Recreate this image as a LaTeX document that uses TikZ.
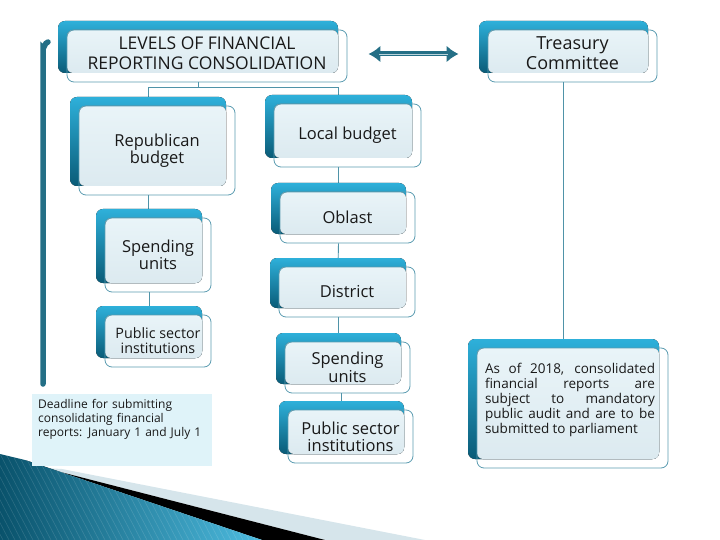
\documentclass[tikz,border=0pt]{standalone}
\usepackage{fontspec}
\setmainfont{Open Sans}
\usetikzlibrary{arrows.meta,backgrounds}
\definecolor{tealtop}{HTML}{2EB0DA}
\definecolor{tealbot}{HTML}{0A5B77}
\definecolor{innerA}{HTML}{E9F4F8}
\definecolor{innerB}{HTML}{DCEAF0}
\definecolor{edge}{HTML}{5A9BB0}
\definecolor{conn}{HTML}{4F93A8}
\definecolor{bar}{HTML}{246F86}
\definecolor{deadfill}{HTML}{DFF3F9}
\definecolor{stripgray}{HTML}{D6E5EB}
\tikzset{
  backshade/.style={top color=tealtop, bottom color=tealbot, rounded corners=7pt},
  innerfill/.style={top color=innerA, bottom color=innerB, rounded corners=6pt},
  frontbox/.style={draw=edge, line width=0.8pt, rounded corners=7pt, inner sep=0pt, align=center, text=black!90},
  connline/.style={draw=conn, line width=0.9pt},
}
\newcommand\tbox[7]{%
  \fill[backshade] (#2-9,#3-9) rectangle (#4-9,#5-9);
  \fill[innerfill] (#2,#3) rectangle (#4-9,#5-9);
  \pgfmathsetmacro\bxcx{(#2+#4)/2}%
  \pgfmathsetmacro\bxcy{(#3+#5)/2}%
  \pgfmathsetmacro\bxw{#4-#2}%
  \pgfmathsetmacro\bxh{#5-#3}%
  \node[frontbox, minimum width=\bxw pt, minimum height=\bxh pt, font=#7] (#1) at (\bxcx,\bxcy) {#6};
}
\begin{document}
\begin{tikzpicture}[x=1pt,y=-1pt]
\useasboundingbox (0,0) rectangle (720,540);

% bottom-left decoration
\fill[stripgray] (45,468) -- (62,469) -- (425,540) -- (325,540) -- cycle;
\fill[black] (25,460) -- (45,468) -- (325,540) -- (262,540) -- cycle;
\begin{scope}
  \clip (0,454) -- (25,460) -- (262,540) -- (0,540) -- cycle;
  \shade[left color=tealbot!90!black, right color=tealtop!85!white] (0,454) rectangle (262,540);
  \foreach \i in {-120,-114,...,300} \draw[white, opacity=0.13, line width=0.6pt] (\i,454) -- (\i+45,540);
\end{scope}

% left vertical bar
\draw[bar, line width=5.5pt, line cap=round] (43,384) -- (43,48) to[out=-90,in=180] (48,42);

% deadline box
\fill[deadfill] (32,394) rectangle (212,466);
\node[anchor=north west, text width=176pt, align=left, inner sep=0pt, font=\fontsize{12}{14}\selectfont, text=black!90] (dl) at (38,399)
  {Deadline for submitting\\consolidating financial\\reports: January 1 and July 1};

% boxes
\tbox{lev}{67}{30}{347}{82}{LEVELS OF FINANCIAL\\REPORTING CONSOLIDATION\\[-14pt]\mbox{}}{\fontsize{17.5}{20}\selectfont}
\tbox{tre}{488}{30}{657}{82}{Treasury\\Committee\\[-14pt]\mbox{}}{\fontsize{18}{20}\selectfont}
\tbox{rep}{79}{106}{235}{195}{Republican\\budget}{\fontsize{16.5}{17}\selectfont}
\tbox{loc}{274}{104}{421}{167}{Local budget}{\fontsize{16.5}{17}\selectfont}
\tbox{obl}{280}{192}{415}{243}{Oblast}{\fontsize{16.5}{17}\selectfont}
\tbox{dis}{279}{267}{415}{317}{District}{\fontsize{16.5}{17}\selectfont}
\tbox{spr}{285}{342}{410}{393}{Spending\\units}{\fontsize{16.5}{18}\selectfont}
\tbox{pur}{288}{410}{413}{463}{Public sector\\institutions}{\fontsize{16.5}{17}\selectfont}
\tbox{spl}{105}{218}{211}{292}{Spending\\units}{\fontsize{16.5}{17}\selectfont}
\tbox{pul}{105}{315}{211}{367}{Public sector\\institutions}{\fontsize{14.3}{15}\selectfont}
\tbox{aud}{477}{348}{668}{468}{\hspace*{-5pt}\begin{minipage}{170pt}\hyphenpenalty=10000\parfillskip=0pt plus 1fil\spaceskip=0.25em plus 2em minus 0.1em
As of 2018, consolidated\linebreak financial reports are\linebreak subject to mandatory\linebreak public audit and are to be\linebreak submitted to parliament\par\vspace*{16pt}\end{minipage}}{\fontsize{13.5}{15}\selectfont}

% connectors
\begin{scope}[on background layer]
  \draw[connline] ([xshift=-9pt]lev.south) -- ++(0,5) coordinate (jn);
  \draw[connline] ([xshift=-9pt]rep.north) |- (jn) -| ([xshift=-9pt]loc.north);
  \draw[connline] ([xshift=-9pt]loc.south) -- ([xshift=-9pt]obl.north);
  \draw[connline] ([xshift=-9pt]obl.south) -- ([xshift=-9pt]dis.north);
  \draw[connline] ([xshift=-9pt]dis.south) -- ([xshift=-9pt]dis.south |- spr.north);
  \draw[connline] ([xshift=-9pt]pur.north) -- ([xshift=-9pt]pur.north |- spr.south);
  \draw[connline] ([xshift=-9pt]rep.south) -- ([xshift=-9pt]rep.south |- spl.north);
  \draw[connline] ([xshift=-9pt]spl.south) -- ([xshift=-9pt]pul.north);
  \draw[connline] ([xshift=-9pt]tre.south) -- ([xshift=-9pt]tre.south |- aud.north);
\end{scope}

% double arrow
\draw[bar, line width=5pt, {Latex[length=12pt,width=17pt]}-{Latex[length=12pt,width=17pt]}]
  ([xshift=21pt,yshift=2pt]lev.east) -- ([xshift=-29pt,yshift=2pt]tre.west);
\draw[conn!40!white, line width=0.6pt] ([xshift=32pt,yshift=2pt]lev.east) -- ([xshift=-40pt,yshift=2pt]tre.west);
\end{tikzpicture}
\end{document}
